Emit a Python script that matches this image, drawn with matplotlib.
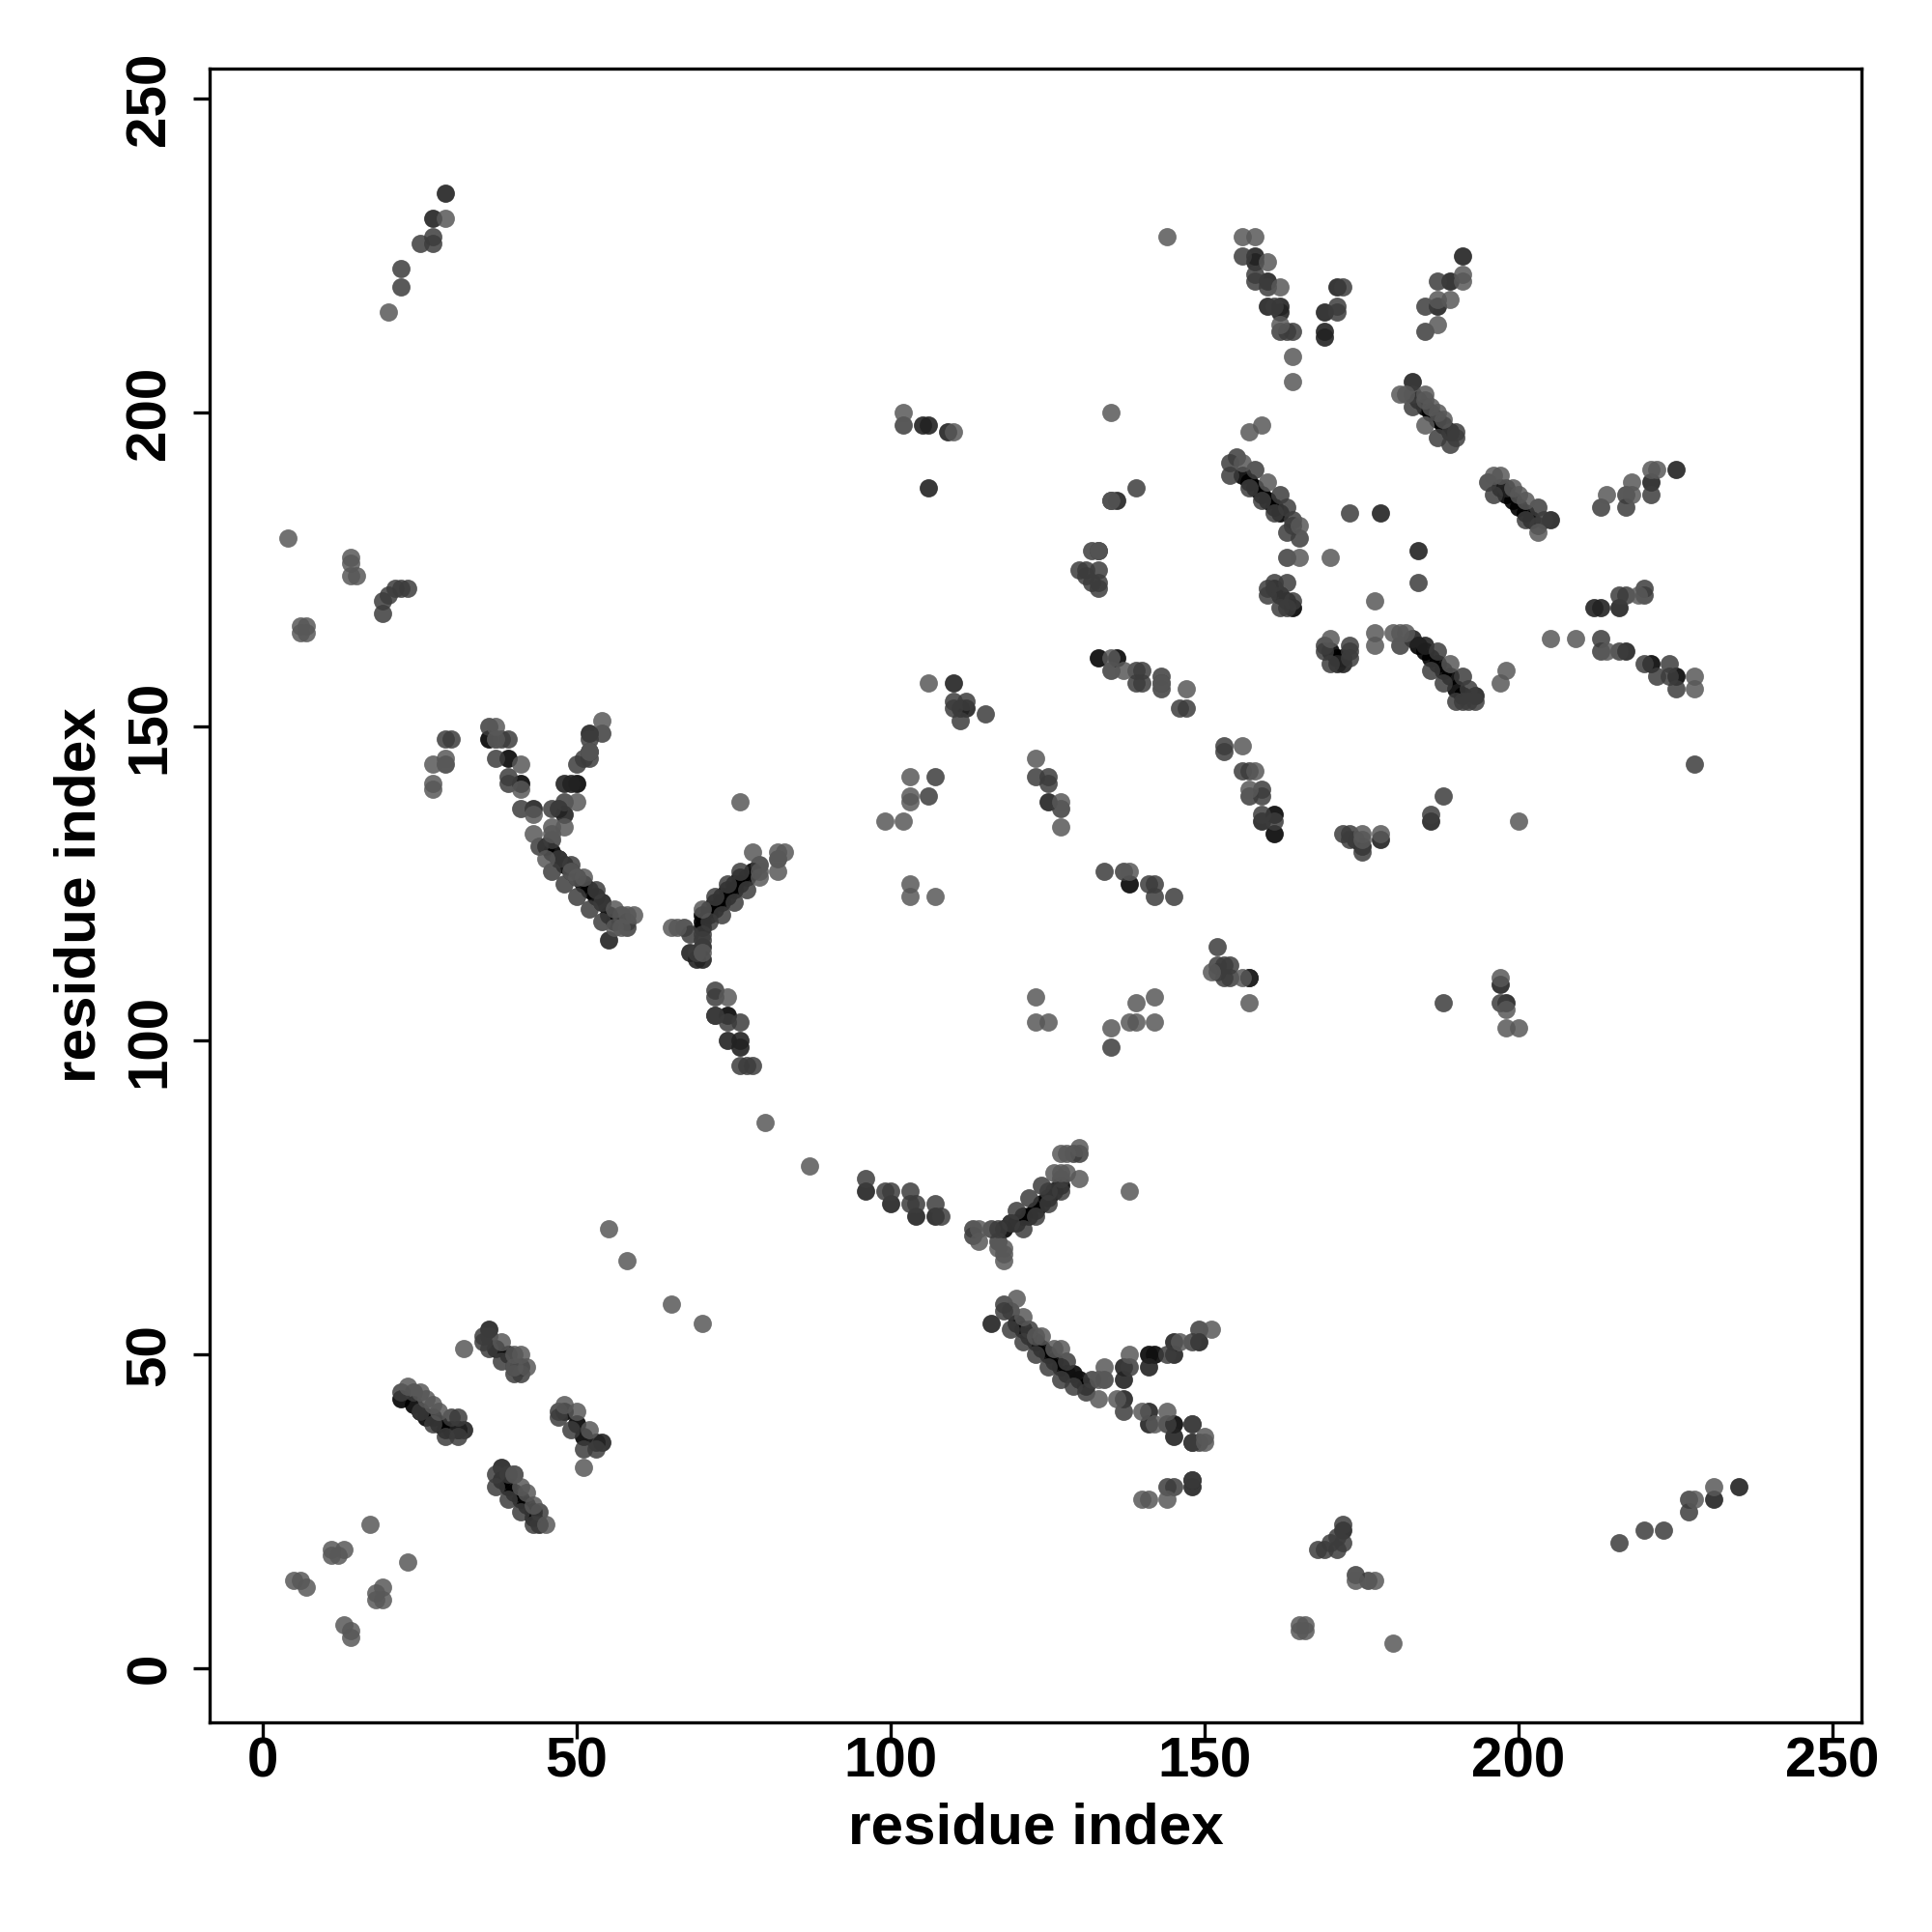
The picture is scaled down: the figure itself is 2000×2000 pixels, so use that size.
import matplotlib
matplotlib.use("Agg")
import matplotlib.pyplot as plt

strip = [(24,42),(25,41),(26,40),(27,40),(28,39),(29,38),(30,38),(31,38),(22,43),(37,51),(39,50),(40,48),(41,48),
(38,30),(39,29),(40,28),(41,27),(42,26),(43,25),(43,24),(48,41),(50,39),(51,37),
(120,55),(121,54),(122,53),(123,52),(124,51),(125,50),(126,49),(127,48),(128,47),(130,46),(131,45),
(46,130),(47,129),(48,128),(49,127),(50,126),(51,125),(52,124),(53,123),(54,122),(55,120),(56,119),(45,131),(36,148),
(70,118),(71,120),(72,121),(73,122),(74,123),(75,124),(76,125),(77,126),(78,127),(70,119),(70,120),(71,121),(72,122),(73,123),(74,124),(75,125),(76,126),
(118,70),(119,71),(120,71),(121,72),(122,72),(123,73),(124,74),(125,75),(126,76),(127,77),(170,162),(171,161),(172,161),
(184,163),(185,162),(186,161),(187,160),(188,159),(189,158),(190,156),(191,155),
(184,202),(185,201),(186,200),(187,199),(188,198),(189,197),
(197,188),(198,187),(199,186),(200,185),(201,184),(202,183),
(156,190),(157,189),(158,188),(159,187),(160,186),(161,185),(162,184),(161,172),(162,171),(163,170),(164,169)]
vdark = [(141,50),(145,39),(39,145),(41,141),(74,104),(133,161),(136,161),(161,136),(161,133),(225,158),(129,47),(142,50),(50,141),(138,125),(221,160)]
dark = [(36,54),(32,38),(31,38),(53,36),(54,36),(38,32),(44,23),(116,55),(137,48),(137,46),(141,48),(145,52),(145,50),(149,52),(137,43),(141,41),(141,39),(148,36),(148,29),(172,22),
(231,27),(235,29),(43,137),(52,146),(52,149),(48,141),(49,141),(47,137),(48,136),(76,99),(76,100),(74,100),(72,104),(157,110),(110,157),(106,198),(105,198),(109,197),(106,188),(29,235),(27,231),
(158,225),(158,224),(160,221),(162,217),(162,216),(169,216),(171,220),(189,221),(187,217),(191,225),(183,205),(198,188),(205,183),(221,189),(225,191),(216,169),(217,162),(178,132),(175,131),(174,132),(212,169),(213,169),(184,178),(197,109),(198,106),(157,110),(96,76),(100,74),(104,72),(107,72),(133,178),(178,184),(136,186),(135,186),(112,153),(111,153),(125,138),(183,164),(185,163),(193,155),(172,160),(171,160),(160,217),(159,135),(186,135),(68,114),(70,113),(69,113),(70,115),(55,116),(145,37),(148,30),(169,213),(169,212)]
mid = [(35,53),(36,53),(35,52),(36,51),(38,49),(40,47),(41,47),(22,44),(24,44),(25,41),(27,39),(29,37),(30,40),(31,40),(31,37),(47,41),(47,40),(49,38),(51,35),(53,35),(37,31),(39,31),(40,31),(37,29),(39,27),(41,25),(44,25),(43,23),
(129,82),(130,82),(127,78),(127,76),(124,77),(125,76),(125,74),(123,72),(122,75),(120,73),(121,70),(119,71),(116,70),(113,70),(113,69),(117,70),(117,68),
(118,58),(118,57),(119,57),(119,54),(121,52),(122,54),(123,50),(125,48),(127,46),(128,49),(129,45),(131,44),(132,46),(134,46),(138,48),(148,52),(144,50),(149,54),(137,41),(144,39),(148,39),(148,36),(149,36),(144,29),(148,30),
(172,23),(171,21),(172,20),(168,19),(169,19),(170,20),(171,19),(216,20),(220,22),(223,22),(227,25),(227,27),
(29,148),(30,148),(29,144),(36,150),(37,148),(38,148),(39,148),(37,145),(39,142),(39,141),(41,137),(44,131),(46,132),(46,137),(48,138),(50,144),(51,145),(52,145),(52,148),(54,149),(47,129),(49,128),(53,124),(54,122),(46,127),(48,125),(50,123),(52,121),(54,119),(57,120),(58,118),(58,119),(67,118),(68,117),(69,114),(70,116),(70,117),
(72,123),(74,125),(76,127),(79,128),(82,129),(71,119),(73,120),(75,122),(77,124),(72,108),(72,107),(72,104),(76,103),(74,103),(76,96),(77,96),(78,96),(96,78),(99,76),(100,76),(103,76),(103,74),(107,74),(108,72),(104,74),
(110,154),(110,153),(112,154),(111,151),(115,152),(125,142),(125,141),(127,137),(123,142),(135,99),(135,159),(139,159),(140,159),(139,157),(140,157),(143,157),(143,156),(146,153),(147,153),(143,158),(134,127),(137,127),(141,125),(142,125),(142,123),(145,123),
(153,147),(153,146),(156,143),(157,143),(157,139),(159,140),(159,139),(159,136),(161,135),(172,133),(173,133),(173,132),(175,130),(186,136),(188,139),(152,115),(152,112),(153,112),(154,112),(152,111),(153,110),(154,110),(188,106),(197,106),
(169,163),(169,162),(170,160),(173,162),(173,161),(173,163),(181,163),(186,159),(187,162),(188,157),(191,158),(190,154),(191,154),(192,156),(193,154),(192,154),
(183,203),(183,201),(187,196),(189,195),(190,196),(190,197),(189,197),(195,189),(196,187),(201,183),(203,182),(204,183),(203,185),(213,185),(217,185),(217,187),(221,187),(173,184),(184,173),(163,177),(161,173),(163,173),(160,172),(160,171),(162,171),(162,169),(163,169),(164,170),
(213,164),(216,171),(217,171),(220,172),(220,171),(213,162),(216,162),(220,160),(222,158),(224,160),(224,158),(225,156),(228,144),(185,217),(185,213),(187,221),(154,192),(154,190),(155,193),(158,191),(157,188),(159,186),(161,184),(162,187),(163,185),(163,181),(164,183),(164,182),(165,180),(162,213),(160,220),(158,222),(158,221),(156,225),(161,217),(163,213),(164,213),(171,217),(171,216),(172,220),
(131,175),(131,174),(132,178),(132,173),(133,175),(133,173),(133,172),(130,175),(139,188),(25,227),(27,227),(27,228),(22,223),(22,220),(19,168),(19,170),(20,171),(21,172),(22,172),(23,172),(102,198),(107,142),(106,139),(145,29),(148,39),(176,14),(174,15)]
light = [(55,70),(58,65),(65,58),(70,55),(32,51),(38,52),(40,50),(41,50),(42,48),(40,48),(23,45),(25,44),(26,43),(27,42),(28,41),(48,42),(50,41),(52,38),(51,32),(41,29),(42,28),(43,26),(45,23),(40,31),(17,23),(11,19),(11,18),(12,18),(13,19),(23,17),(5,14),(6,14),(7,13),(19,13),(18,12),(18,11),(19,11),(13,7),(14,6),(14,5),
(130,83),(127,82),(128,82),(130,78),(138,76),(127,79),(126,79),(128,79),(114,70),(114,68),(117,67),(118,67),(118,66),(118,65),(120,59),(121,56),(123,53),(124,53),(126,51),(127,51),(133,43),(133,46),(134,48),(138,50),(146,52),(151,54),(136,43),(140,41),(142,39),(144,41),(150,37),(150,36),(140,27),(141,27),(144,27),(165,6),(165,7),(166,6),(166,7),(180,4),(174,14),(177,14),(228,27),(231,29),
(27,144),(27,141),(27,140),(29,145),(37,150),(37,148),(41,144),(41,140),(43,136),(43,133),(46,134),(46,133),(48,134),(50,138),(52,146),(54,151),(49,127),(50,126),(51,126),(56,121),(58,120),(59,120),(45,129),(56,118),(57,118),(65,118),(66,118),(70,121),(70,114),(78,130),(79,127),(79,126),(82,130),(83,130),(82,127),(74,107),(76,138),(80,87),(87,80),
(102,200),(110,197),(4,180),(14,177),(14,176),(14,174),(15,174),(6,165),(7,166),(6,166),(7,165),(20,216),(29,231),(99,135),(102,135),(103,142),(103,139),(103,138),(103,125),(103,123),(107,123),(106,157),(123,145),(127,138),(127,134),(123,107),(123,103),(125,103),(135,102),(138,103),(139,103),(139,106),(142,107),(142,103),
(137,159),(147,156),(135,161),(156,147),(158,143),(157,140),(143,157),(175,133),(178,133),(175,132),(200,135),(138,127),(151,111),(156,110),(157,106),(197,110),(198,105),(198,102),(200,102),(198,159),(197,157),(170,164),(177,165),(177,163),(180,165),(181,165),(182,165),(189,160),
(164,209),(164,205),(159,198),(157,197),(181,203),(182,203),(185,203),(185,202),(186,201),(187,200),(188,199),(185,198),(196,190),(197,190),(199,188),(200,187),(201,186),(203,181),(214,187),(218,189),(218,187),(221,191),(222,191),(165,177),(170,177),(177,170),(205,164),(209,164),(214,162),(219,171),(228,158),(228,156),
(144,228),(156,228),(158,228),(160,224),(162,220),(162,214),(191,222),(191,221),(187,218),(189,218),(187,214),(135,200),(156,192),(160,189),(165,182),(133,178),(135,186)]

tick_values = [0, 50, 100, 150, 200, 250]
axis_title = "residue index"

plt.rcParams["font.family"] = ["Liberation Sans", "DejaVu Sans"]
fig = plt.figure(figsize=(10, 10), dpi=200)
ax = fig.add_axes([217/2000, 1 - 1783/2000, (1927-217)/2000, (1783-71)/2000])
for pts, c, a in [(strip, "#000000", 0.9), (vdark, "#101010", 0.95), (dark, "#222222", 0.9),
                  (mid, "#3c3c3c", 0.85), (light, "#585858", 0.85)]:
    ax.scatter([p[0] for p in pts], [p[1] for p in pts], s=46, c=c, alpha=a, linewidths=0, zorder=3)
ax.set_xlim(-8.46, 254.6)
ax.set_ylim(-8.6, 254.8)
ax.set_xticks(tick_values)
ax.set_yticks(tick_values)
ax.tick_params(length=6, width=1.2, labelsize=21)
ax.tick_params(axis="x", pad=-0.9)
ax.tick_params(axis="y", pad=16)
for t in ax.get_xticklabels():
    t.set_fontweight("bold")
for t in ax.get_yticklabels():
    t.set_fontweight("bold")
    t.set_rotation(90)
    t.set_va("center")
    t.set_rotation_mode("anchor")
    t.set_ha("center")
ax.set_xlabel(axis_title, fontsize=21.7, fontweight="bold", labelpad=5)
ax.set_ylabel(axis_title, fontsize=21.7, fontweight="bold", labelpad=6.6)
for s in ax.spines.values():
    s.set_linewidth(1.2)
fig.savefig("out.png", dpi=200, facecolor="white")
